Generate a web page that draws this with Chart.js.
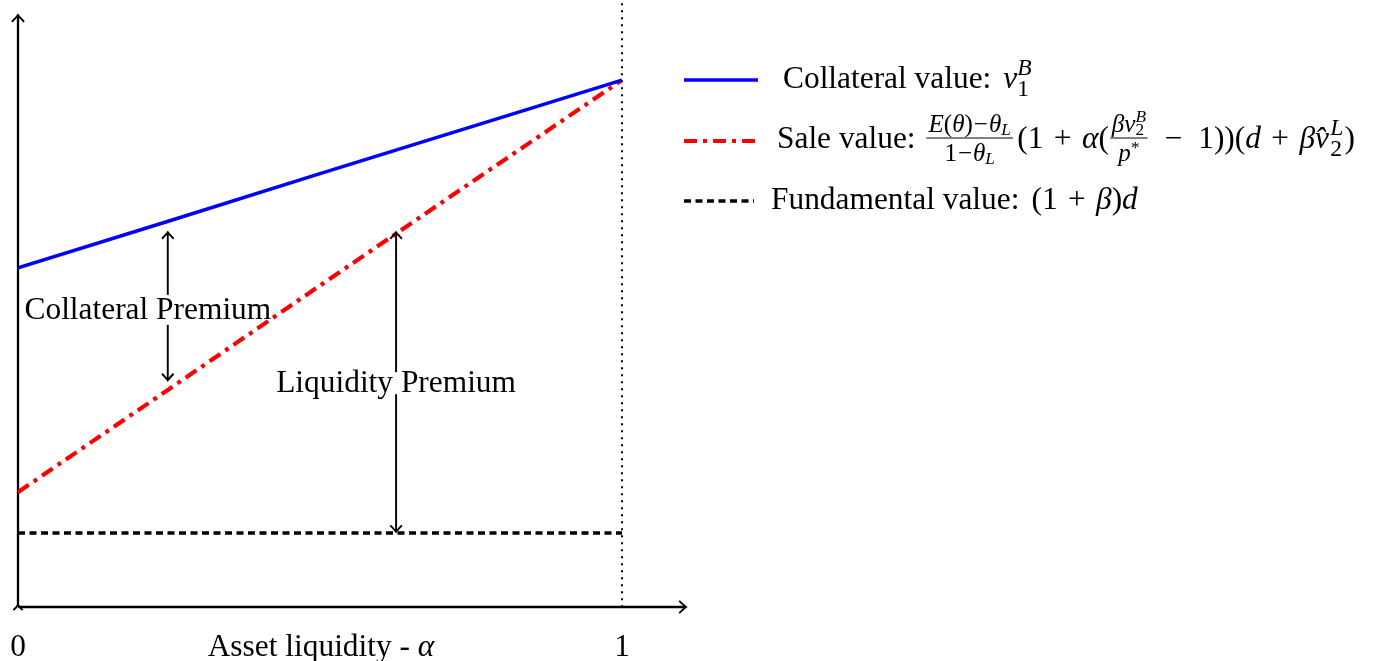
<!DOCTYPE html>
<html>
<head>
<meta charset="utf-8">
<script src="https://cdn.jsdelivr.net/npm/chart.js@4.4.1/dist/chart.umd.min.js"></script>
<style>
  html, body { margin: 0; background: #fff; }
  #wrap { width: 1376px; height: 661px; }
</style>
</head>
<body>
<div id="wrap"><canvas id="myChart"></canvas></div>
<script>
// Values (y is in arbitrary units, 0 at the x axis)
const alphaGrid = [0, 0.25, 0.5, 0.75, 1];
const collateralValue = [5.73, 6.52, 7.32, 8.11, 8.90];
const saleValue = [1.94, 3.68, 5.43, 7.17, 8.90];
const fundamentalValue = [1.25, 1.25, 1.25, 1.25, 1.25];
const xTicks = ['0', '1'];
const xTickValues = [0, 1];
const xTitle = 'Asset liquidity - ';
const seriesNames = ['Collateral value:', 'Sale value:', 'Fundamental value:'];
// premium arrows: alpha, top, bottom, label alpha, label y
const premiumNames = ['Collateral Premium', 'Liquidity Premium'];
const premiumAlpha = [0.248, 0.626];
const premiumTop = [6.33, 6.33];
const premiumBottom = [3.83, 1.27];
const premiumLabelAlpha = [0.215, 0.626];
const premiumLabelY = [5.02, 3.78];

const SERIF = '"Liberation Serif", "DejaVu Serif", serif';
let base = 24; // font size, fitted below

function pts(values) {
  return alphaGrid.map((a, i) => ({ x: a, y: values[i] }));
}

function arrowHead(ctx, x, y, dx, dy, size) {
  // open "to" style tip pointing along (dx, dy)
  const s = size || 1;
  const len = Math.hypot(dx, dy); dx /= len; dy /= len;
  const px = -dy, py = dx;
  const b = 6.5 * s, w = 5.8 * s;
  ctx.beginPath();
  ctx.moveTo(x - dx * b + px * w, y - dy * b + py * w);
  ctx.quadraticCurveTo(x - dx * 1.5 + px * 1, y - dy * 1.5 + py * 1, x, y);
  ctx.quadraticCurveTo(x - dx * 1.5 - px * 1, y - dy * 1.5 - py * 1, x - dx * b - px * w, y - dy * b - py * w);
  ctx.stroke();
}

function seg(ctx, x1, y1, x2, y2) {
  ctx.beginPath(); ctx.moveTo(x1, y1); ctx.lineTo(x2, y2); ctx.stroke();
}

// draw a run of text pieces: {t, s (scale), it, dy, keep (no advance), pl/pr (padding in em)}
function runs(ctx, x, y, parts) {
  let maxX = x;
  parts.forEach(p => {
    const size = base * (p.s || 1);
    ctx.font = (p.it ? 'italic ' : '') + size.toFixed(1) + 'px ' + SERIF;
    x += (p.pl || 0) * base;
    ctx.fillText(p.t, x, y + (p.dy || 0) * base);
    const w = ctx.measureText(p.t).width + (p.pr || 0) * base;
    maxX = Math.max(maxX, x + w);
    if (!p.keep) x = maxX;
  });
  return maxX;
}

function widthOf(ctx, parts) {
  ctx.save(); ctx.globalAlpha = 0;
  const w = runs(ctx, 0, -1000, parts);
  ctx.restore();
  return w;
}

function frac(ctx, x, yBar, num, den, pad) {
  const wn = widthOf(ctx, num), wd = widthOf(ctx, den);
  const w = Math.max(wn, wd) + 2 * pad;
  runs(ctx, x + (w - wn) / 2, yBar - base * 0.2, num);
  runs(ctx, x + (w - wd) / 2, yBar + base * 0.74, den);
  ctx.lineWidth = 1;
  seg(ctx, x + pad * 0.5, yBar, x + w - pad * 0.5, yBar);
  return x + w;
}

const drawing = {
  id: 'drawing',
  beforeDatasetsDraw(chart) {
    const { ctx, scales: { x, y } } = chart;
    const x0 = x.getPixelForValue(0), y0 = y.getPixelForValue(0);
    const xEnd = x.getPixelForValue(x.max), yEnd = y.getPixelForValue(y.max);
    const x1 = x.getPixelForValue(1);
    ctx.save();
    ctx.font = '24px ' + SERIF;
    base = 24 * 247 / ctx.measureText(premiumNames[0]).width;
    ctx.strokeStyle = '#000';
    // dotted line at alpha = 1
    ctx.lineWidth = 2;
    ctx.setLineDash([2, 5]);
    seg(ctx, x1, y.getPixelForValue(10.2), x1, y0);
    ctx.setLineDash([]);
    // axes
    ctx.lineWidth = 2.3;
    seg(ctx, x0, y0, x0, yEnd);
    seg(ctx, x0, y0, xEnd, y0);
    ctx.lineWidth = 1.9;
    arrowHead(ctx, x0, yEnd, 0, -1, 1.05);
    arrowHead(ctx, xEnd, y0, 1, 0, 1.05);
    arrowHead(ctx, x0, y0 - 2, 0, -1, 0.8);
    // tick labels and axis title
    ctx.fillStyle = '#000';
    ctx.textAlign = 'center';
    ctx.textBaseline = 'alphabetic';
    ctx.font = base.toFixed(1) + 'px ' + SERIF;
    xTicks.forEach((t, i) => ctx.fillText(t, x.getPixelForValue(xTickValues[i]), y0 + 49));
    ctx.textAlign = 'left';
    const title = [{ t: xTitle }, { t: 'α', it: true }];
    const tw = widthOf(ctx, title);
    runs(ctx, 321 - tw / 2, y0 + 49, title);
    ctx.restore();
  },
  afterDatasetsDraw(chart) {
    const { ctx, scales: { x, y } } = chart;
    ctx.save();
    ctx.strokeStyle = '#000';
    ctx.fillStyle = '#000';
    // premium arrows with labels
    premiumNames.forEach((name, i) => {
      const ax = x.getPixelForValue(premiumAlpha[i]);
      const top = y.getPixelForValue(premiumTop[i]);
      const bot = y.getPixelForValue(premiumBottom[i]);
      const ly = y.getPixelForValue(premiumLabelY[i]);
      const gap = i === 0 ? 15 : 11;
      ctx.lineWidth = 1.9;
      seg(ctx, ax, top, ax, ly - gap);
      seg(ctx, ax, ly + gap, ax, bot);
      arrowHead(ctx, ax, top, 0, -1);
      arrowHead(ctx, ax, bot, 0, 1);
      ctx.font = base.toFixed(1) + 'px ' + SERIF;
      ctx.textAlign = 'center';
      ctx.textBaseline = 'middle';
      ctx.fillText(name, x.getPixelForValue(premiumLabelAlpha[i]), ly + 1);
    });

    // legend
    ctx.textAlign = 'left';
    ctx.textBaseline = 'alphabetic';
    const ds = chart.data.datasets;
    const rows = [80, 141, 201];
    const sampleEnd = [758, 758, 754];
    const textStart = [783, 777, 771];
    ds.forEach((d, i) => {
      ctx.strokeStyle = d.borderColor;
      ctx.lineWidth = d.borderWidth;
      ctx.setLineDash(d.borderDash || []);
      seg(ctx, 684, rows[i], sampleEnd[i], rows[i]);
    });
    ctx.setLineDash([]);
    ctx.strokeStyle = '#000';
    const sub = 0.75, sub2 = 0.55, fr = 0.8;
    const plus = { t: '+', pl: 0.33, pr: 0.33 };
    const minus = { t: '−', pl: 0.5, pr: 0.5 };
    // row 1
    let bx = runs(ctx, textStart[0], rows[0] + 8, [{ t: seriesNames[0] }]);
    runs(ctx, bx + 12, rows[0] + 8, [
      { t: 'v', it: true },
      { t: 'B', it: true, s: sub, dy: -0.42, keep: true },
      { t: '1', s: sub, dy: 0.24 }
    ]);
    // row 2
    const r2 = rows[1] + 7;
    runs(ctx, textStart[1], r2, [{ t: seriesNames[1] }]);
    bx = frac(ctx, 924, r2 - 10, [
      { t: 'E', it: true, s: fr }, { t: '(', s: fr }, { t: 'θ', it: true, s: fr }, { t: ')', s: fr },
      { t: '−', s: fr, pl: 0.03, pr: 0.03 },
      { t: 'θ', it: true, s: fr }, { t: 'L', it: true, s: sub2, dy: 0.1 }
    ], [
      { t: '1', s: fr }, { t: '−', s: fr, pl: 0.03, pr: 0.03 }, { t: 'θ', it: true, s: fr }, { t: 'L', it: true, s: sub2, dy: 0.1 }
    ], 4.5);
    bx = runs(ctx, bx + 2, r2, [{ t: '(' }, { t: '1' }, plus, { t: 'α', it: true }, { t: '(' }]);
    bx = frac(ctx, bx, r2 - 10, [
      { t: 'β', it: true, s: fr }, { t: 'v', it: true, s: fr },
      { t: 'B', it: true, s: sub2, dy: -0.32, keep: true }, { t: '2', s: sub2, dy: 0.12 }
    ], [
      { t: 'p', it: true, s: fr }, { t: '*', s: sub2, dy: -0.25 }
    ], 3);
    runs(ctx, bx, r2, [
      minus, { t: '1))(' }, { t: 'd', it: true }, plus, { t: 'β', it: true },
      { t: 'v\u0302', it: true, pr: 0.04 },
      { t: 'L', it: true, s: sub, dy: -0.42, keep: true }, { t: '2', s: sub, dy: 0.24, pr: 0.08 },
      { t: ')' }
    ]);
    // row 3
    bx = runs(ctx, textStart[2], rows[2] + 8, [{ t: seriesNames[2] }]);
    runs(ctx, bx + 12, rows[2] + 8, [
      { t: '(' }, { t: '1' }, plus, { t: 'β', it: true }, { t: ')' }, { t: 'd', it: true }
    ]);
    ctx.restore();
  }
};

new Chart(document.getElementById('myChart'), {
  type: 'line',
  data: {
    datasets: [
      { label: seriesNames[0], data: pts(collateralValue), borderColor: '#0000ff', borderWidth: 3.6 },
      { label: seriesNames[1], data: pts(saleValue), borderColor: '#ff0000', borderWidth: 4.2, borderDash: [13, 6, 4, 6] },
      { label: seriesNames[2], data: pts(fundamentalValue), borderColor: '#000000', borderWidth: 3.6, borderDash: [7, 4.5] }
    ]
  },
  options: {
    responsive: true,
    maintainAspectRatio: false,
    animation: false,
    layout: { padding: { left: 18, right: 690, top: 15, bottom: 54 } },
    elements: { point: { radius: 0 }, line: { tension: 0, borderCapStyle: 'butt' } },
    scales: {
      x: { type: 'linear', min: 0, max: 1.106, display: false },
      y: { min: 0, max: 10, display: false }
    },
    plugins: { legend: { display: false }, tooltip: { enabled: false } }
  },
  plugins: [drawing]
});
</script>
</body>
</html>
